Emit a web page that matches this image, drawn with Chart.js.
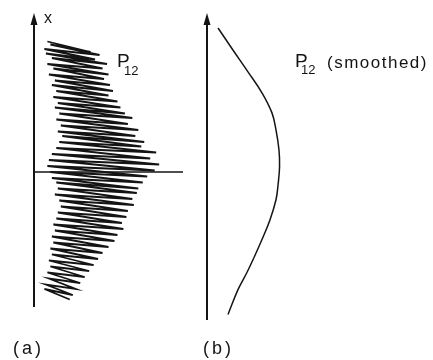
<!DOCTYPE html>
<html><head><meta charset="utf-8">
<script src="https://cdn.jsdelivr.net/npm/chart.js@4.4.1/dist/chart.umd.min.js"></script>
<style>
html,body{margin:0;padding:0;background:#fff;}
#wrap{position:relative;width:433px;height:360px;overflow:hidden;background:#fff;}
canvas{position:absolute;top:0;}
#ca{left:0;} #cb{left:190px;}
</style></head><body>
<div id="wrap"><canvas id="ca" width="200" height="360"></canvas><canvas id="cb" width="243" height="360"></canvas></div>
<script>
// Panel (a): raw P12 zigzag (position x on vertical axis, P12 horizontal)
const posRawA = [8.7, 8.0, 8.5, 7.8, 8.2, 7.5, 7.9, 7.2, 7.6, 6.9, 7.2, 6.5, 6.9, 6.2, 6.5, 5.8, 6.1, 5.4, 5.8, 5.1,
  5.4, 4.7, 5.0, 4.3, 4.6, 3.9, 4.3, 3.6, 3.9, 3.2, 3.5, 2.8, 3.1, 2.4, 2.7, 2.0, 2.4, 1.7, 2.0, 1.3,
  1.6, 0.9, 1.2, 0.5, 0.8, 0.1, 0.4, -0.3, 0.0, -0.7, -0.4, -1.1, -0.7, -1.4, -1.1, -1.8, -1.5, -2.2, -1.9, -2.6,
  -2.3, -3.0, -2.7, -3.4, -3.1, -3.8, -3.5, -4.2, -3.9, -4.6, -4.3, -5.0, -4.7, -5.4, -5.1, -5.8, -5.5, -6.2, -5.9, -6.6,
  -6.3, -7.0, -6.7, -7.4, -7.1, -7.8, -7.5, -8.2, -7.8, -8.5];
const p12RawA = [0.9, 3.8, 1.1, 4.4, 0.7, 4.1, 0.8, 4.9, 1.2, 4.6, 0.9, 5.0, 1.3, 4.7, 1.0, 5.1, 1.4, 5.3, 1.2, 5.0,
  1.5, 5.6, 1.3, 5.8, 1.6, 6.1, 1.4, 6.6, 1.7, 6.3, 1.5, 7.0, 1.8, 6.8, 1.6, 7.4, 1.9, 7.2, 1.7, 8.2,
  1.5, 7.8, 1.2, 8.4, 1.0, 8.1, 0.9, 7.6, 1.1, 7.3, 1.2, 7.0, 1.5, 6.9, 1.6, 6.6, 1.4, 6.7, 1.7, 6.3,
  1.8, 6.2, 1.6, 5.9, 1.5, 6.0, 1.3, 5.6, 1.4, 5.4, 1.2, 5.0, 1.3, 4.6, 1.1, 4.3, 1.2, 4.0, 1.0, 3.7,
  1.1, 3.4, 0.9, 3.1, 1.0, 2.8, 0.8, 2.6, 0.7, 2.4];
// Panel (b): smoothed P12
const posSmooth = [9.6, 8.13, 6.67, 5.27, 3.93, 2.8, 1.47, 0.33, -0.87, -1.87, -3.2, -4.53, -5.87, -6.73, -7.87, -9.53];
const p12Smooth = [0.74, 1.74, 2.75, 3.69, 4.36, 4.63, 4.83, 4.87, 4.77, 4.63, 4.23, 3.69, 3.09, 2.68, 2.08, 1.41];
// Texts
const axisName = 'x';
const seriesMain = 'P', seriesSub = '12', smoothNote = '(smoothed)';
const panelLabels = ['(a)', '(b)'];

const INK = '#141414';
const FONT = '"Liberation Sans", Arial, Helvetica, sans-serif';

function axesPlugin(id, zeroLine, drawTexts) {
  return {
    id: id,
    afterDatasetsDraw(chart) {
      const ctx = chart.ctx, a = chart.chartArea, ys = chart.scales.y;
      ctx.save();
      ctx.strokeStyle = INK; ctx.fillStyle = INK;
      ctx.lineWidth = 2;
      ctx.beginPath(); ctx.moveTo(a.left, a.bottom); ctx.lineTo(a.left, a.top + 8); ctx.stroke();
      ctx.beginPath(); ctx.moveTo(a.left, a.top); ctx.lineTo(a.left - 3.5, a.top + 12); ctx.lineTo(a.left + 3.5, a.top + 12); ctx.closePath(); ctx.fill();
      if (zeroLine) {
        const y0 = ys.getPixelForValue(0);
        ctx.lineWidth = 1.6;
        ctx.beginPath(); ctx.moveTo(a.left, y0); ctx.lineTo(a.right, y0); ctx.stroke();
      }
      ctx.textBaseline = 'alphabetic'; ctx.textAlign = 'left';
      drawTexts(ctx);
      ctx.restore();
    }
  };
}

function baseOptions(pad, ymin, ymax) {
  return {
    responsive: false, animation: false, events: [],
    layout: { padding: pad },
    plugins: { legend: { display: false }, tooltip: { enabled: false } },
    scales: {
      x: { type: 'linear', display: false, min: 0, max: 10 },
      y: { type: 'linear', display: false, min: ymin, max: ymax }
    }
  };
}

new Chart(document.getElementById('ca'), {
  type: 'scatter',
  data: { datasets: [{
    data: posRawA.map((p, i) => ({ x: p12RawA[i], y: p })),
    showLine: true, pointRadius: 0, borderColor: INK, borderWidth: 1.8, tension: 0
  }] },
  options: baseOptions({ left: 34, top: 13, right: 17, bottom: 53 }, -9, 10.6),
  plugins: [axesPlugin('axA', true, ctx => {
    ctx.font = '16px ' + FONT; ctx.fillText(axisName, 44, 23);
    ctx.font = '19px ' + FONT; ctx.fillText(seriesMain, 117, 67);
    ctx.font = '13px ' + FONT; ctx.fillText(seriesSub, 124, 75);
    ctx.font = '18px ' + FONT; ctx.letterSpacing = '3px'; ctx.fillText(panelLabels[0], 13, 354);
  })]
});

new Chart(document.getElementById('cb'), {
  type: 'scatter',
  data: { datasets: [{
    data: posSmooth.map((p, i) => ({ x: p12Smooth[i], y: p })),
    showLine: true, pointRadius: 0, borderColor: INK, borderWidth: 1.5, tension: 0.4
  }] },
  options: baseOptions({ left: 17, top: 13, right: 77, bottom: 40 }, -9.9, 10.6),
  plugins: [axesPlugin('axB', false, ctx => {
    ctx.font = '19px ' + FONT; ctx.fillText(seriesMain, 105, 67);
    ctx.font = '13px ' + FONT; ctx.fillText(seriesSub, 111, 74);
    ctx.font = '17px ' + FONT; ctx.letterSpacing = '1.5px'; ctx.fillText(smoothNote, 137, 68);
    ctx.font = '18px ' + FONT; ctx.letterSpacing = '3px'; ctx.fillText(panelLabels[1], 13, 354);
  })]
});
</script>
</body></html>
